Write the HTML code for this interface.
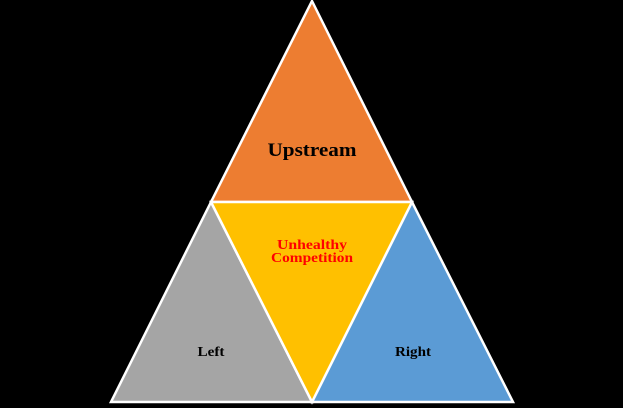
<!DOCTYPE html>
<html><head><style>
html,body{margin:0;padding:0;background:#000;}
svg{display:block}
text{font-family:"Liberation Serif",serif;font-weight:bold;text-anchor:middle}
</style></head><body>
<svg width="623" height="408" viewBox="0 0 623 408">
<rect width="623" height="408" fill="#000"/>
<g stroke="#fff" stroke-width="2.5" stroke-linejoin="miter">
<polygon points="312,1 412,202 211,202" fill="#ED7D31"/>
<polygon points="211,202 312,402 111,402" fill="#A5A5A5"/>
<polygon points="412,202 513,402 312,402" fill="#5B9BD5"/>
<polygon points="211,202 412,202 312,402" fill="#FFC000"/>
</g>
<text x="312" y="156" font-size="19" fill="#000" textLength="89" lengthAdjust="spacingAndGlyphs">Upstream</text>
<text x="312" y="249" font-size="13.5" fill="#FF0000" textLength="70" lengthAdjust="spacingAndGlyphs">Unhealthy</text>
<text x="312" y="262" font-size="13.5" fill="#FF0000" textLength="82" lengthAdjust="spacingAndGlyphs">Competition</text>
<text x="211" y="356" font-size="13.5" fill="#000" textLength="27" lengthAdjust="spacingAndGlyphs">Left</text>
<text x="413" y="356" font-size="13.5" fill="#000" textLength="36" lengthAdjust="spacingAndGlyphs">Right</text>
</svg>
</body></html>
